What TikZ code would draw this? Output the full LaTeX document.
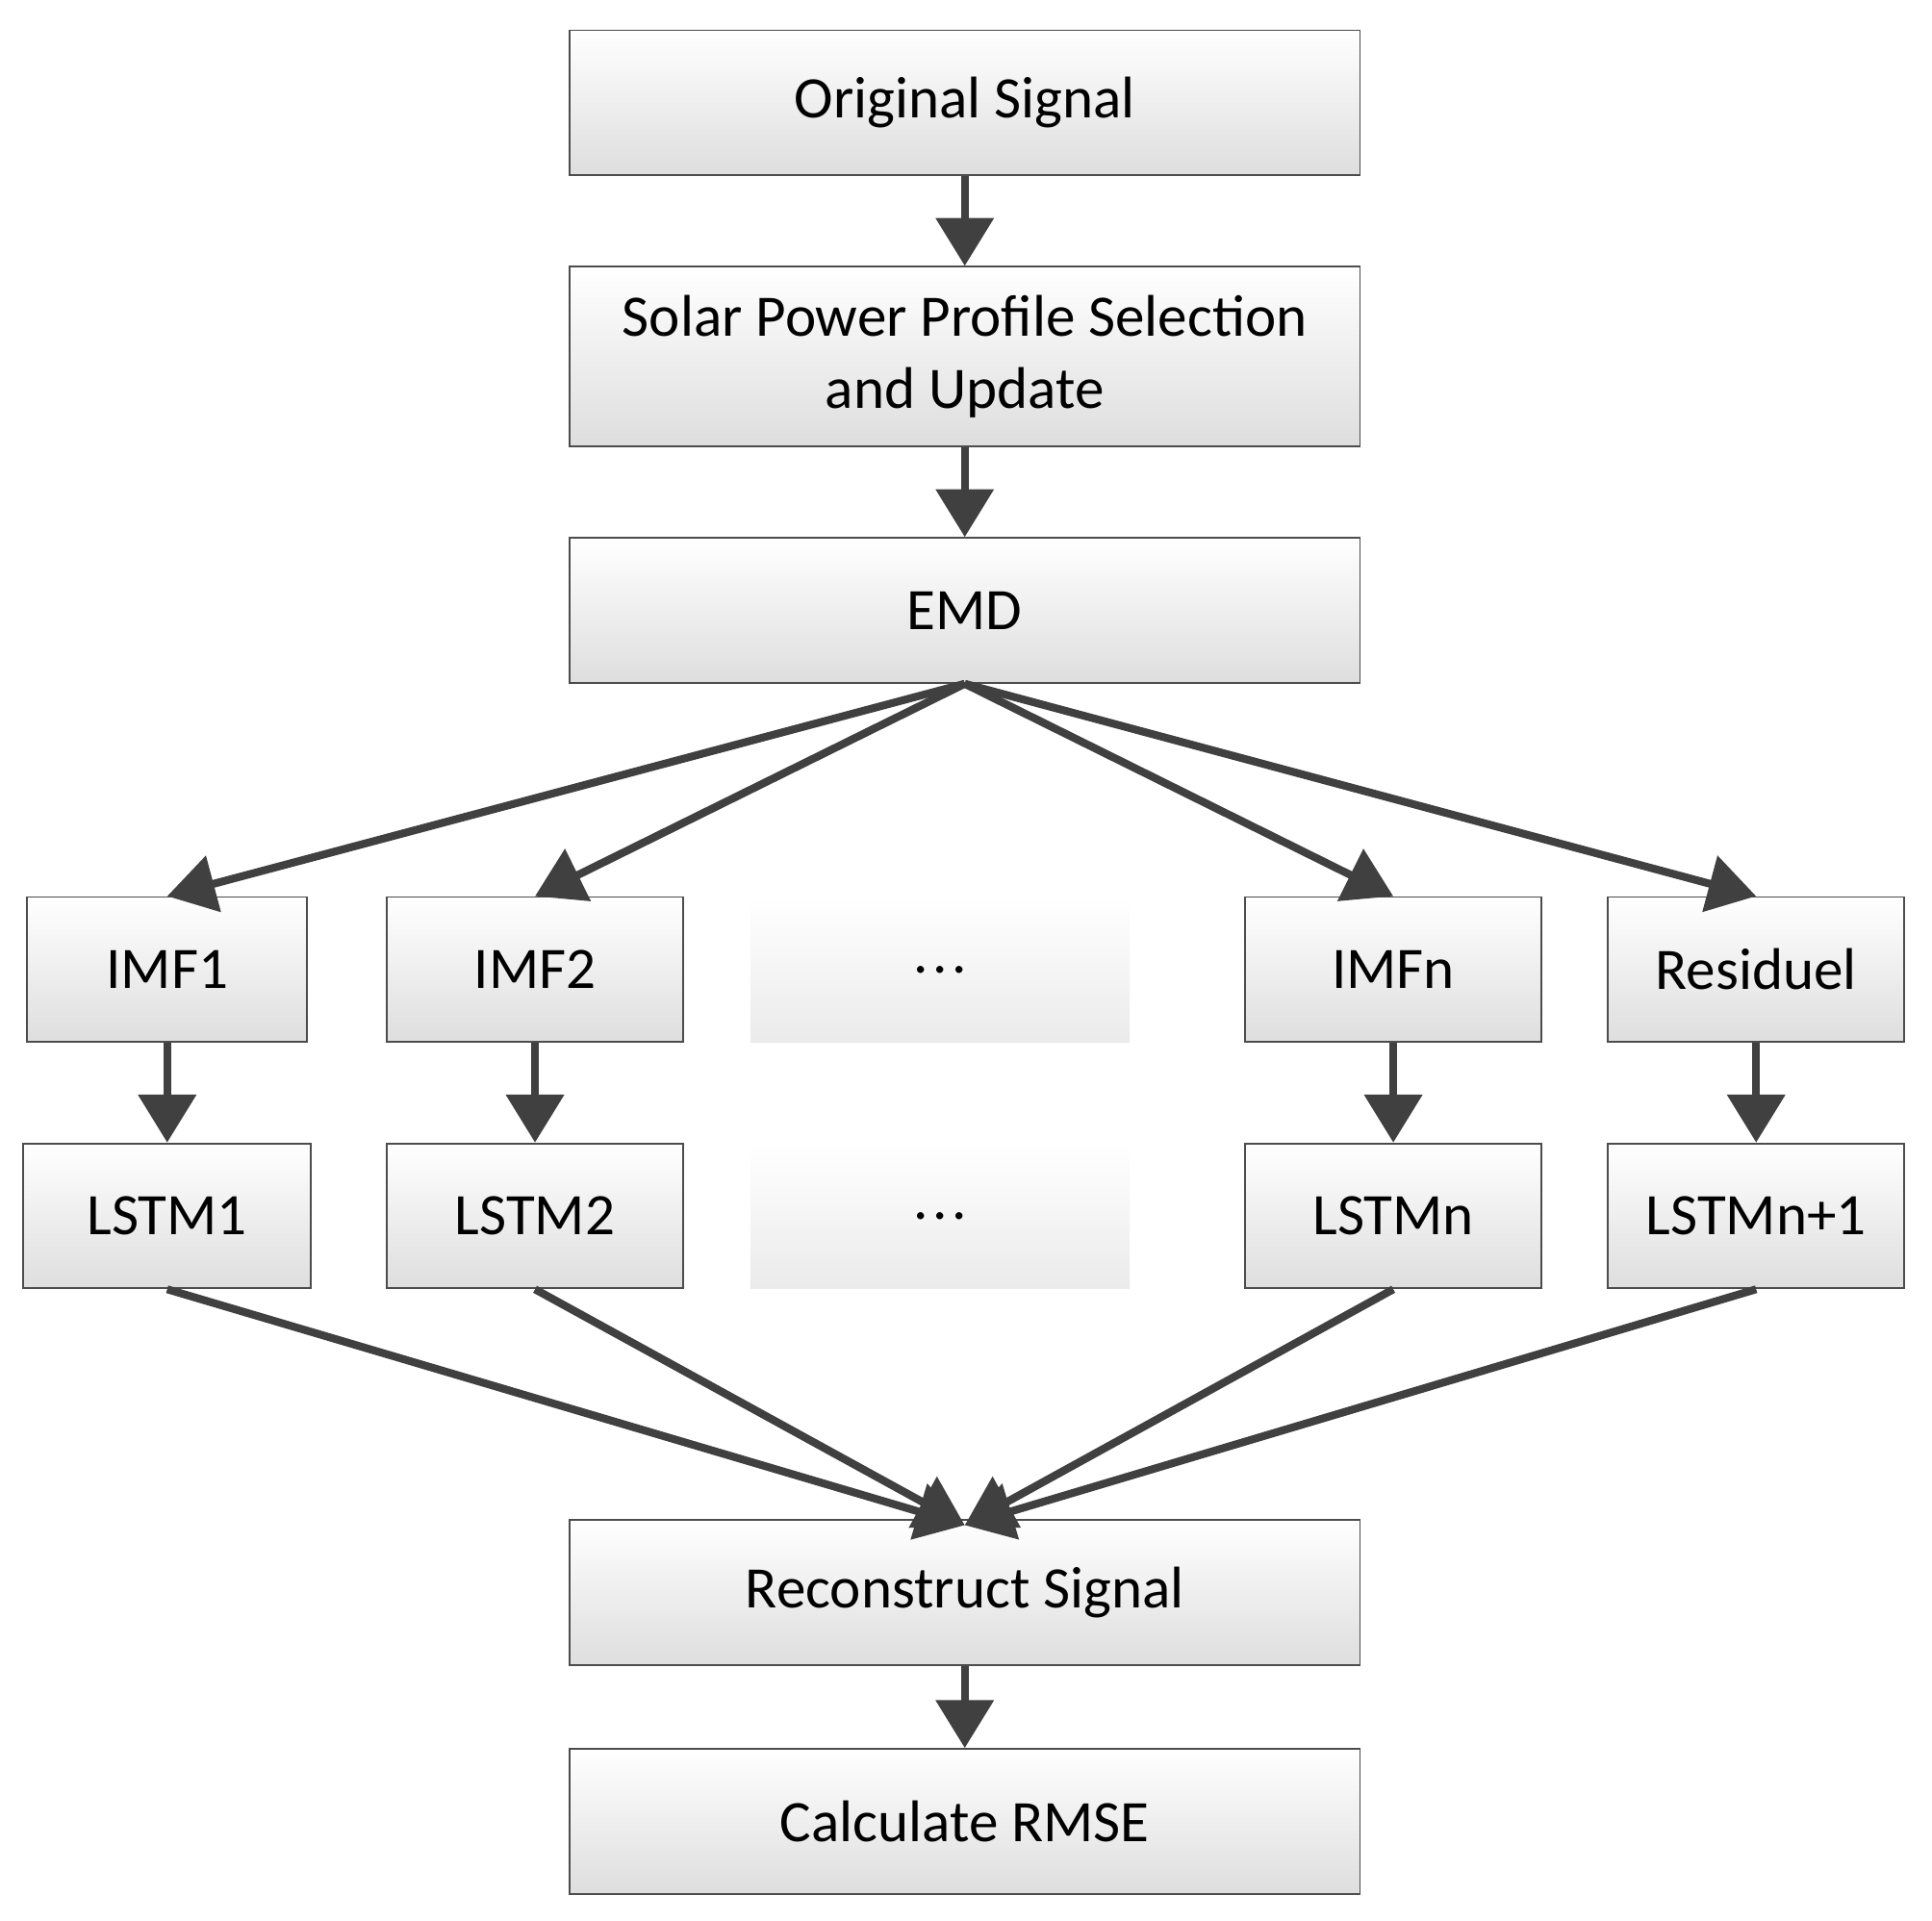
\documentclass[tikz,border=0pt]{standalone}
\usepackage{fontspec}
\setmainfont{Carlito}
\usetikzlibrary{positioning,arrows.meta}
\definecolor{arr}{HTML}{404040}
\tikzset{
	blk/.style={draw=black!70,top color=white,bottom color=black!13,minimum height=1.17cm,inner sep=0pt,align=center,font=\fontsize{13.5}{16.5}\selectfont},
	fade/.style={top color=white,bottom color=black!8,minimum height=1.17cm,minimum width=3.06cm,font=\fontsize{13.5}{16.5}\selectfont},
	flow/.style={-{Triangle[length=11pt,width=13pt]},line width=1.8pt,arr}
}
\begin{document}
\begin{tikzpicture}[x=0.01cm,y=-0.01cm]
\useasboundingbox (0,0) rectangle (1560,1551);

\node [blk,minimum width=6.38cm] at (779,83) (orig) {Original Signal};
\node [blk,minimum width=6.38cm,minimum height=1.45cm] at (779,288) (sel) {Solar Power Profile Selection\\and Update};
\node [blk,minimum width=6.38cm] at (779,493) (emd) {EMD};

\node [blk,minimum width=2.26cm] at (135,783) (imf1) {IMF1};
\node [blk,minimum width=2.39cm] at (432,783) (imf2) {IMF2};
\node [fade] at (759,783) (imfd) {.\kern1pt.\kern1pt.};
\node [blk,minimum width=2.39cm] at (1125,783) (imfn) {IMFn};
\node [blk,minimum width=2.39cm] at (1418,783) (res) {Residuel};

\node [blk,minimum width=2.32cm] at (135,982) (lstm1) {LSTM1};
\node [blk,minimum width=2.39cm] at (432,982) (lstm2) {LSTM2};
\node [fade] at (759,982) (lstmd) {.\kern1pt.\kern1pt.};
\node [blk,minimum width=2.39cm] at (1125,982) (lstmn) {LSTMn};
\node [blk,minimum width=2.39cm] at (1418,982) (lstmm) {LSTMn+1};

\node [blk,minimum width=6.38cm] at (779,1286) (rec) {Reconstruct Signal};
\node [blk,minimum width=6.38cm] at (779,1471) (rmse) {Calculate RMSE};

\draw [flow] (orig) -- (sel);
\draw [flow] (sel) -- (emd);
\draw [flow] (rec) -- (rmse);

\foreach \i/\j in {imf1/lstm1,imf2/lstm2,imfn/lstmn,res/lstmm} {
	\draw [flow] (\i) -- (\j);
	\draw [flow] (emd.south) -- (\i.north);
	\draw [flow] (\j.south) -- ([yshift=-0.05cm]rec.north);
}

\end{tikzpicture}
\end{document}
